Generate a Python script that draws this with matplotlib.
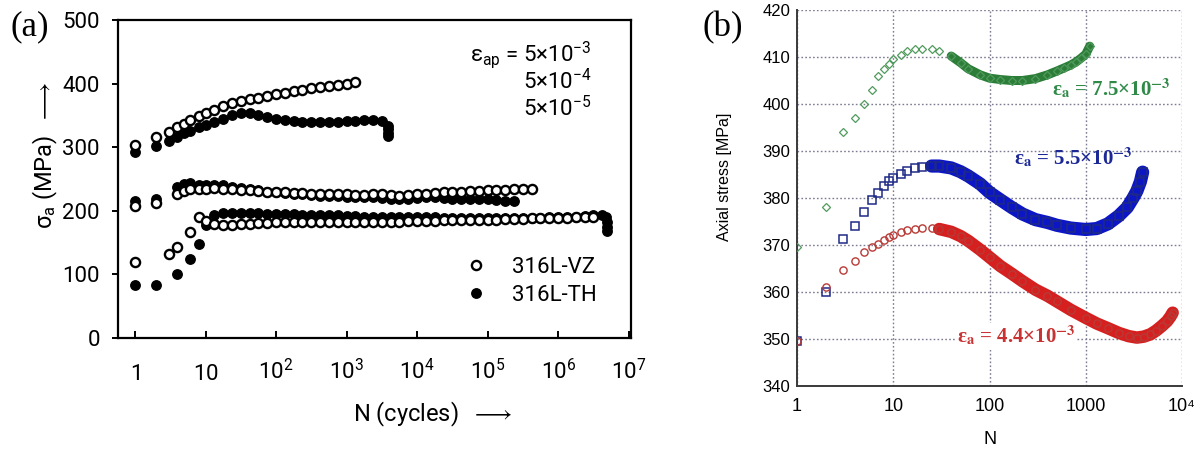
import matplotlib
matplotlib.use("Agg")
import matplotlib.pyplot as plt

plt.rcParams["mathtext.fontset"] = "custom"
plt.rcParams["mathtext.rm"] = "Roboto"
plt.rcParams["mathtext.it"] = "Roboto:italic"
plt.rcParams["mathtext.bf"] = "Roboto:bold"
plt.rcParams["mathtext.sf"] = "Roboto"

NARROW = ["Roboto", "DejaVu Sans"]
ARIAL = ["Liberation Sans", "DejaVu Sans"]
SERIF = ["Liberation Serif", "DejaVu Serif"]

# ---------------- panel (a) data ----------------
# cycle counts used for the dense part of every curve (8 per decade)
N_TAIL = [10, 13.3, 17.8, 23.7, 31.6, 42.2, 56.2, 75,
          100, 133, 178, 237, 316, 422, 562, 750,
          1e3, 1.33e3, 1.78e3, 2.37e3, 3.16e3, 4.22e3, 5.62e3, 7.5e3,
          1e4, 1.33e4, 1.78e4, 2.37e4, 3.16e4, 4.22e4, 5.62e4, 7.5e4,
          1e5, 1.33e5, 1.78e5, 2.37e5, 3.16e5, 4.22e5, 5.62e5, 7.5e5,
          1e6, 1.33e6, 1.78e6, 2.37e6, 3.16e6, 4.22e6]

# 316L-VZ (open) and 316L-TH (filled), three strain amplitudes
vz_hi_n = [1, 2, 3, 4, 5, 6, 8] + N_TAIL[:18]
vz_hi_s = [304, 316, 324, 332, 337, 343, 349,
           354, 359, 364, 369, 373, 376, 378, 380,
           383, 386, 388, 390, 393, 395, 397, 398,
           399, 402]

th_hi_n = [1, 2, 3, 4, 5, 6, 8] + N_TAIL[:21] + [3900, 3900, 3900, 3900]
th_hi_s = [293, 302, 309, 316, 322, 326, 332,
           335, 340, 345, 350, 353, 354, 351, 347,
           344, 342, 341, 340, 340, 340, 340, 340,
           341, 341, 342, 342, 341,
           334, 328, 322, 317]

vz_mid_n = [1, 2, 4, 5, 6, 8] + N_TAIL[:38]
vz_mid_s = [208, 213, 226, 231, 234, 235,
            235, 236, 235, 234, 233, 232, 231, 230,
            229, 229, 228, 228, 227, 227, 226, 226,
            226, 225, 225, 226, 226, 225, 224, 225,
            226, 227, 228, 229, 229, 230, 231, 231,
            232, 233, 233, 234, 235, 235]

th_mid_n = [1, 2, 4, 5, 6, 8] + N_TAIL[:36]
th_mid_s = [215, 219, 238, 242, 244, 241,
            241, 241, 240, 238, 236, 234, 232, 230,
            229, 228, 227, 226, 225, 224, 224, 223,
            222, 222, 221, 221, 220, 219, 219, 219,
            220, 221, 221, 220, 219, 219, 219, 218,
            218, 217, 216, 215]

vz_lo_n = [1, 3, 4, 6, 8] + N_TAIL[:45]
vz_lo_s = [120, 132, 143, 167, 190,
           184, 180, 177, 178, 179, 180, 181, 181,
           182, 182, 182, 182, 182, 183, 183, 183,
           183, 183, 183, 183, 183, 183, 183, 184,
           184, 184, 184, 185, 185, 185, 185, 186,
           186, 186, 187, 187, 187, 188, 188, 188,
           189, 189, 190, 190, 190]

th_lo_n = [1, 2, 4, 6, 8] + N_TAIL[:46] + [4.8e6, 5.0e6, 5.0e6, 5.0e6]
th_lo_s = [84, 83, 101, 124, 148,
           178, 193, 196, 196, 196, 196, 196, 195,
           195, 195, 195, 194, 194, 194, 193, 193,
           192, 192, 191, 191, 191, 191, 191, 190,
           190, 190, 190, 189, 189, 189, 189, 189,
           189, 189, 189, 189, 189, 189, 189, 190,
           190, 190, 191, 192, 193, 194,
           190, 182, 175, 168]

a_xticks = [1, 10, 1e2, 1e3, 1e4, 1e5, 1e6, 1e7]
a_xlabels = ["$1$", "$10$", "$10^{2}$", "$10^{3}$", "$10^{4}$",
             "$10^{5}$", "$10^{6}$", "$10^{7}$"]
a_yticks = [0, 100, 200, 300, 400, 500]
strain_labels = ["ε$_{\\rm ap}$ = 5×10$^{-3}$", "5×10$^{-4}$", "5×10$^{-5}$"]

# ---------------- panel (b) data ----------------
e75_n = [1, 2, 3, 4, 5, 6, 7, 8, 9, 10, 12, 14, 17, 20, 25, 30, 40, 50, 60, 80,
         100, 130, 170, 220, 300, 400, 500, 600, 700, 800, 900, 1000, 1100]
e75_s = [369.5, 378, 394, 397, 400, 403, 406, 407.5, 408.5, 409.5, 410.5, 411.2,
         411.6, 411.7, 411.6, 411.2, 410.2, 408.8, 407.5, 406.2, 405.5, 405.2,
         405.0, 405.0, 405.4, 406.2, 407.0, 407.7, 408.3, 409.0, 409.8, 410.6, 412.3]

e55_n = [1, 2, 3, 4, 5, 6, 7, 8, 9, 10, 12, 14, 17, 20, 25, 30, 40, 50, 60, 80,
         100, 130, 170, 220, 300, 400, 500, 700, 1000, 1300, 1700, 2200, 2700,
         3100, 3400, 3700, 3900]
e55_s = [349.5, 360, 371.3, 374, 377, 379.5, 381, 382.5, 383.6, 384.3, 385.2,
         385.8, 386.3, 386.6, 386.8, 386.8, 386.4, 385.6, 384.7, 383.0, 381.2,
         379.6, 378.0, 376.6, 375.4, 374.8, 374.2, 373.6, 373.3, 373.5, 374.5,
         376.2, 378.0, 380.0, 381.5, 383.5, 385.5]

e44_n = [1, 2, 3, 4, 5, 6, 7, 8, 9, 10, 12, 14, 17, 20, 25, 30, 40, 50, 60, 80,
         100, 130, 170, 220, 300, 400, 500, 700, 1000, 1300, 1700, 2200, 2800,
         3400, 4000, 4700, 5400, 6200, 7000, 7600, 8000]
e44_s = [349.5, 361, 364.6, 366.7, 368.6, 369.5, 370.3, 371, 371.6, 372.1, 372.7,
         373.1, 373.5, 373.6, 373.6, 373.4, 372.8, 371.9, 370.9, 369.0, 367.4,
         365.5, 363.9, 362.3, 360.5, 359.2, 358.0, 356.2, 354.5, 353.3, 352.3,
         351.3, 350.6, 350.3, 350.5, 351.0, 351.8, 352.8, 353.8, 354.8, 355.6]

b_xticks = [1, 10, 100, 1000, 1e4]
b_xlabels = ["1", "10", "100", "1000", "10⁴"]
b_yticks = [340, 350, 360, 370, 380, 390, 400, 410, 420]

W, H = 1202, 450
fig = plt.figure(figsize=(W / 100, H / 100), dpi=100)
fig.patch.set_facecolor("white")


def fx(px):
    return px / W


def fy(py):
    return 1 - py / H


# ================= panel (a) =================
ax = fig.add_axes([fx(118), fy(338), fx(631) - fx(118), fy(20) - fy(338)])
ax.set_xscale("log")
ax.set_xlim(0.574, 1.08e7)
ax.set_ylim(0, 500)

filled = dict(ls="none", marker="o", ms=6.8, mfc="black", mec="black", mew=1.0)
hollow = dict(ls="none", marker="o", ms=6.6, mfc="white", mec="black", mew=1.7)

ax.plot(th_hi_n, th_hi_s, label="316L-TH", **filled)
ax.plot(th_mid_n, th_mid_s, **filled)
ax.plot(th_lo_n, th_lo_s, **filled)
ax.plot(vz_hi_n, vz_hi_s, label="316L-VZ", **hollow)
ax.plot(vz_mid_n, vz_mid_s, **hollow)
ax.plot(vz_lo_n, vz_lo_s, **hollow)

for sp in ax.spines.values():
    sp.set_linewidth(1.6)

ax.xaxis.set_minor_locator(matplotlib.ticker.NullLocator())
ax.set_xticks(a_xticks)
ax.set_xticklabels(a_xlabels)
ax.set_yticks(a_yticks)
ax.tick_params(axis="x", direction="in", length=5, width=1.4, pad=30,
               labelsize=16)
ax.tick_params(axis="y", direction="out", length=4, width=1.4, pad=9,
               labelsize=16)
for lab in ax.get_xticklabels():
    lab.set_va("baseline")
    lab.set_family(NARROW)
for lab in ax.get_yticklabels():
    lab.set_family(NARROW)

ax.text(0.924, 0.89, strain_labels[0], transform=ax.transAxes, ha="right",
        va="center", fontsize=16, family=NARROW)
ax.text(0.924, 0.805, strain_labels[1], transform=ax.transAxes, ha="right",
        va="center", fontsize=16, family=NARROW)
ax.text(0.924, 0.722, strain_labels[2], transform=ax.transAxes, ha="right",
        va="center", fontsize=16, family=NARROW)

handles, labels = ax.get_legend_handles_labels()
ax.legend(handles[::-1], labels[::-1], loc="center left",
          bbox_to_anchor=(0.655, 0.178), frameon=False, borderpad=0,
          handlelength=1.0, handletextpad=1.1, labelspacing=0.3,
          prop={"family": NARROW, "size": 16})

fig.text(fx(45), fy(155), "σ$_{\\rm a}$ (MPa)  $\\longrightarrow$", rotation=90,
         ha="center", va="center", fontsize=17, family=NARROW)
fig.text(fx(433), fy(414), "N (cycles)  $\\longrightarrow$", ha="center",
         va="center", fontsize=17, family=NARROW)
fig.text(fx(30), fy(27), "(a)", ha="center", va="center", fontsize=25,
         family=SERIF)

# ================= panel (b) =================
bx = fig.add_axes([fx(797), fy(386), fx(1182) - fx(797), fy(10) - fy(386)])
bx.set_xscale("log")
bx.set_xlim(1, 1e4)
bx.set_ylim(340, 420)

green, blue, red = "#2b7d38", "#0c16c4", "#d62020"

# dense parts look like a solid band
bx.plot(e75_n[16:], e75_s[16:], "-", color=green, lw=6.5, solid_capstyle="round",
        zorder=3)
bx.plot(e55_n[14:], e55_s[14:], "-", color=blue, lw=9.5, solid_capstyle="round",
        zorder=3)
bx.plot(e44_n[15:], e44_s[15:], "-", color=red, lw=9, solid_capstyle="round",
        zorder=3)

bx.plot(e75_n, e75_s, ls="none", marker="D", ms=4.2, mfc="none", mec="#4f9a5c",
        mew=0.9, zorder=4)
bx.plot(e55_n, e55_s, ls="none", marker="s", ms=6.2, mfc="none", mec="#1f2a86",
        mew=1.1, zorder=4)
bx.plot(e44_n, e44_s, ls="none", marker="o", ms=5.2, mfc="none", mec="#b83a36",
        mew=1.0, zorder=4)

bx.xaxis.set_minor_locator(matplotlib.ticker.NullLocator())
bx.set_xticks(b_xticks)
bx.set_xticklabels(b_xlabels)
bx.set_yticks(b_yticks)
bx.grid(True, color="#7c7c92", ls=(0, (1.2, 1.6)), lw=1.0)
bx.set_axisbelow(True)
bx.tick_params(axis="both", length=0)
bx.tick_params(axis="x", pad=18, labelsize=13)
bx.tick_params(axis="y", pad=5, labelsize=12)
for lab in bx.get_xticklabels():
    lab.set_va("baseline")
    lab.set_family(ARIAL)
for lab in bx.get_yticklabels():
    lab.set_family(ARIAL)
for side in ["top", "right"]:
    bx.spines[side].set_visible(False)
for side in ["left", "bottom"]:
    bx.spines[side].set_color("#3a3a3a")
    bx.spines[side].set_linewidth(1.4)

bx.text(1850, 403.2, "ε$_\\mathbf{a}$ = 7.5×10$^\\mathbf{-3}$", ha="center",
        va="center", color="#2f8a48", fontsize=15, fontweight="bold",
        family=SERIF, math_fontfamily="stix")
bx.text(750, 388.4, "ε$_\\mathbf{a}$ = 5.5×10$^\\mathbf{-3}$", ha="center",
        va="center", color="#1c2896", fontsize=15, fontweight="bold",
        family=SERIF, math_fontfamily="stix", zorder=5)
bx.text(188, 350.6, "ε$_\\mathbf{a}$ = 4.4×10$^\\mathbf{-3}$", ha="center",
        va="center", color="#c83232", fontsize=15, fontweight="bold",
        family=SERIF, math_fontfamily="stix", zorder=5,
        bbox=dict(fc="white", ec="none", pad=1))

fig.text(fx(724), fy(177), "Axial stress [MPa]", rotation=90, ha="center",
         va="center", fontsize=11.5, family=ARIAL)
fig.text(fx(990), fy(440), "N", ha="center", va="center", fontsize=13,
         family=ARIAL)
fig.text(fx(723), fy(28), "(b)", ha="center", va="center", fontsize=25,
         family=SERIF)

fig.savefig("out.png", dpi=100, facecolor="white")
